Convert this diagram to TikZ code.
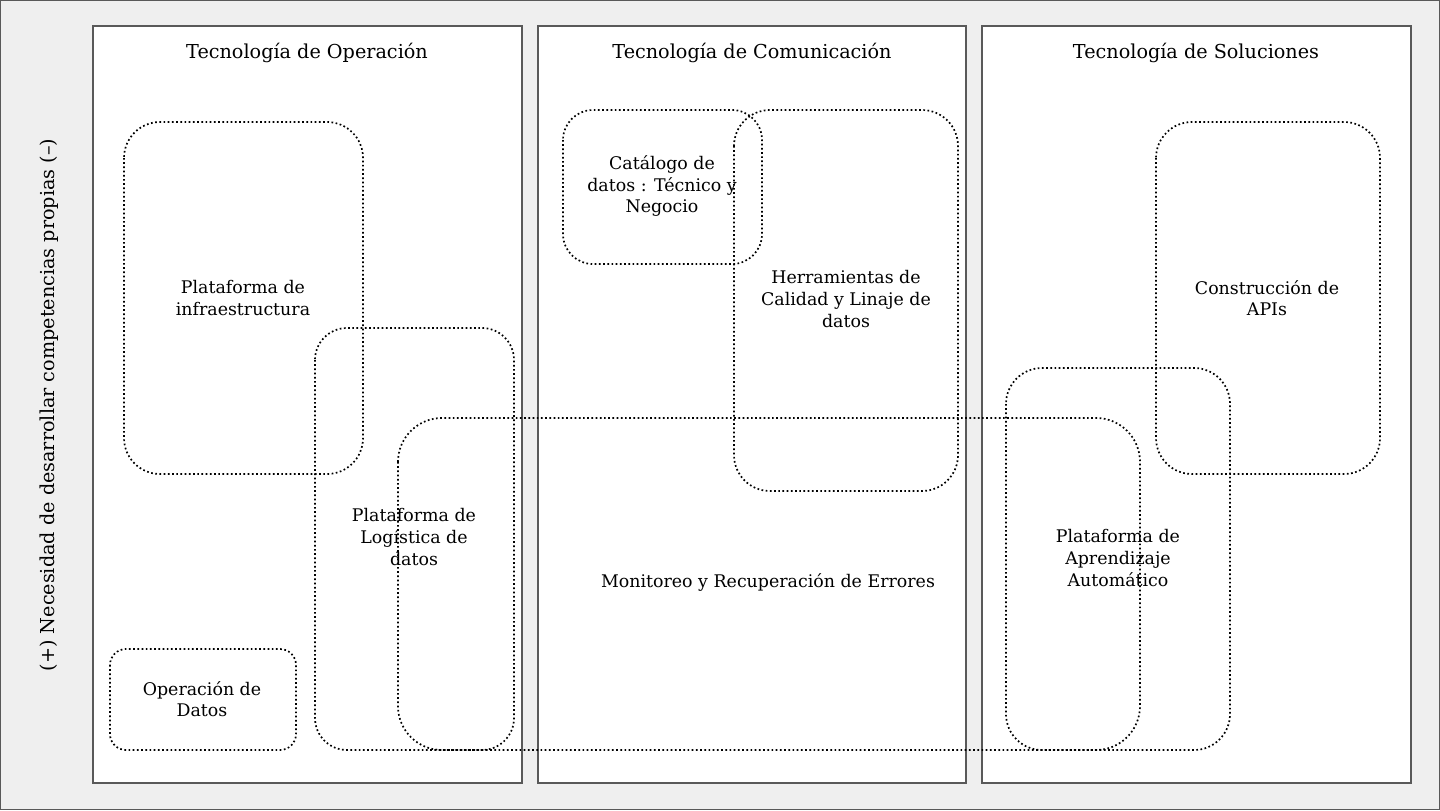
\documentclass[tikz,border=0pt]{standalone}
\usepackage{fontspec}
\setmainfont{DejaVu Serif}
\definecolor{bgcol}{HTML}{EFEFEF}
\definecolor{framecol}{HTML}{595959}
\tikzset{
  panel/.style={draw=framecol, line width=1pt, fill=white},
  dotbox/.style={draw=black, line width=0.85pt, dash pattern=on 0.85pt off 1.25pt},
  lbl/.style={font=\fontsize{8.7}{10.8}\selectfont, align=center, inner sep=0pt},
  ttl/.style={font=\fontsize{9.6}{11}\selectfont, inner sep=0pt},
}
\begin{document}
\begin{tikzpicture}[x=0.5pt,y=-0.5pt]
\useasboundingbox (0,0) rectangle (1440,810);
\fill[bgcol] (0,0) rectangle (1440,810);
\draw[framecol, line width=0.6pt] (0.6,0.6) rectangle (1439.4,809.4);
% panels
\path[panel] (93,26) rectangle (522,783);
\path[panel] (538,26) rectangle (966,783);
\path[panel] (982,26) rectangle (1411,783);
\node[ttl] (t1) at (307,53) {Tecnología de Operación};
\node[ttl] (t2) at (752,53) {Tecnología de Comunicación};
\node[ttl] (t3) at (1196,53) {Tecnología de Soluciones};
% dotted boxes
\draw[dotbox, rounded corners=18pt] (124,122) rectangle (363,474);
\draw[dotbox, rounded corners=16pt] (315,328) rectangle (514,750);
\draw[dotbox, rounded corners=22pt] (398,418) rectangle (1140,750);
\draw[dotbox, rounded corners=8pt] (110,649) rectangle (296,750);
\draw[dotbox, rounded corners=15pt] (563,110) rectangle (762,264);
\draw[dotbox, rounded corners=18pt] (734,110) rectangle (958,491);
\draw[dotbox, rounded corners=18pt] (1156,122) rectangle (1380,474);
\draw[dotbox, rounded corners=18pt] (1006,368) rectangle (1230,750);
% labels
\node[lbl] (infra) at (243,298) {Plataforma de\\infraestructura};
\node[lbl] (logi) at (414,537) {Plataforma de\\Logística de\\datos};
\node[lbl] (oper) at (202,699) {Operación de\\Datos};
\node[lbl] (cat) at (662,186) {Catálogo de\\datos : Técnico y\\Negocio};
\node[lbl] (herr) at (846,299) {Herramientas de\\Calidad y Linaje de\\datos};
\node[lbl] (moni) at (768,582) {Monitoreo y Recuperación de Errores};
\node[lbl] (apis) at (1267,298) {Construcción de\\APIs};
\node[lbl] (ml) at (1118,558) {Plataforma de\\Aprendizaje\\Automático};
\node[ttl, rotate=90] (axis) at (49,405) {(+) Necesidad de desarrollar competencias propias (–)};
\end{tikzpicture}
\end{document}
